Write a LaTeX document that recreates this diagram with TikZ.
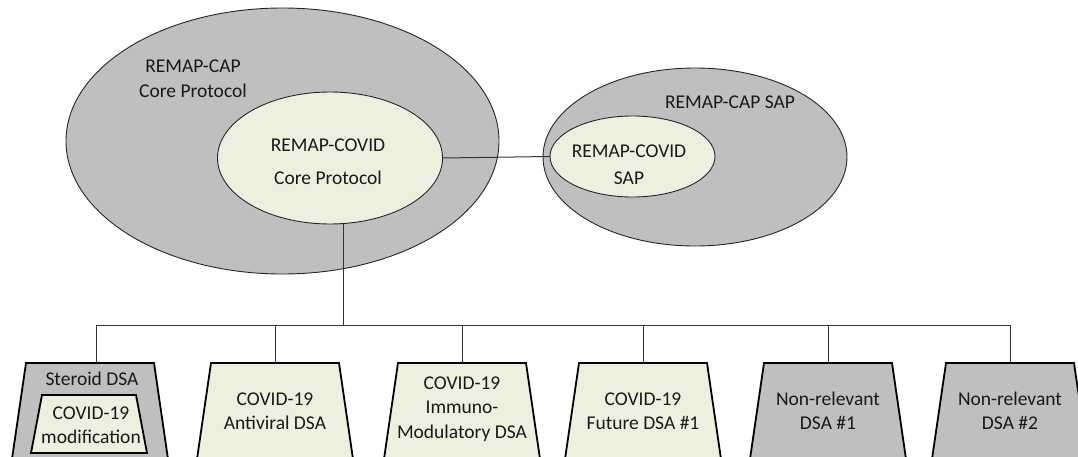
\documentclass[tikz,border=0pt]{standalone}
\usepackage{fontspec}
\setmainfont{Carlito}
\usetikzlibrary{shapes.geometric}
\definecolor{gfill}{HTML}{BFBFBF}
\definecolor{lgreen}{HTML}{EBF1DE}
\newcommand{\dsatrap}[3]{%
  \draw[trap,fill=#2] ({#1-64},363) -- ({#1+64},363) -- ({#1+78},459) -- ({#1-78},459) -- cycle;
  \coordinate (#3) at (#1,363);}
\begin{document}
\begin{tikzpicture}[x=1pt,y=-1pt,
  ell/.style={ellipse, draw=black!85, line width=0.9pt, inner sep=0pt, outer sep=0pt},
  trap/.style={draw=black, line width=1.8pt, line join=miter},
  conn/.style={draw=black!80, line width=1pt},
  lbl/.style={font=\fontsize{19.5}{24.5}\selectfont, align=center, inner sep=0pt, text=black!90}]
\useasboundingbox (0,0) rectangle (1078,457);
\clip (0,0) rectangle (1078,457);
\fill[white] (0,0) rectangle (1078,457);
% ellipses
\node[ell, fill=gfill, minimum width=433pt, minimum height=266pt] (capcore) at (282.5,141) {};
\node[ell, fill=lgreen, minimum width=225pt, minimum height=132pt] (covcore) at (330,158) {};
\node[ell, fill=gfill, minimum width=304pt, minimum height=178pt] (capsap) at (695,157) {};
\node[ell, fill=lgreen, minimum width=165pt, minimum height=81pt] (covsap) at (632.5,156.5) {};
% ellipse labels
\node[lbl] (tcapcore) at (193,78.5) {REMAP-CAP\\Core Protocol};
\node[lbl] (tcovcore) at (328,161.5) {REMAP-COVID\\[8pt]Core Protocol};
\node[lbl] (tcapsap) at (730,102) {REMAP-CAP SAP};
\node[lbl] (tcovsap) at (629,164.5) {REMAP-COVID\\[2.5pt]SAP};
% connectors between ellipses
\draw[conn] (covcore.east) -- (covsap.west);
\coordinate (busmid) at (343,325);
\coordinate (busL) at (96,325);
\coordinate (busR) at (1010,325);
\draw[conn] (covcore.south -| busmid) -- (busmid);
\draw[conn] (busL) -- (busR);
% boxes
\dsatrap{90}{gfill}{b1c}
\coordinate (b1) at (96,363);
\draw[trap,fill=lgreen] (42,395) -- (136,395) -- (147,453) -- (31,453) -- cycle;
\dsatrap{275}{lgreen}{b2}
\dsatrap{462}{lgreen}{b3}
\dsatrap{643}{lgreen}{b4}
\dsatrap{828}{gfill}{b5}
\dsatrap{1010}{gfill}{b6}
\foreach \b in {b1,b2,b3,b4,b5,b6}{\draw[conn] (\b |- busL) -- (\b);}
% box labels
\node[lbl] (l1a) at (92,379) {Steroid DSA};
\node[lbl] (l1b) at (91,425) {COVID-19\\modification};
\node[lbl] (l2) at (275,411) {COVID-19\\Antiviral DSA};
\node[lbl] (l3) at (462,409) {COVID-19\\Immuno-\\Modulatory DSA};
\node[lbl] (l4) at (643,411) {COVID-19\\Future DSA \#1};
\node[lbl] (l5) at (828,411) {Non-relevant\\DSA \#1};
\node[lbl] (l6) at (1010,411) {Non-relevant\\DSA \#2};
\end{tikzpicture}
\end{document}
